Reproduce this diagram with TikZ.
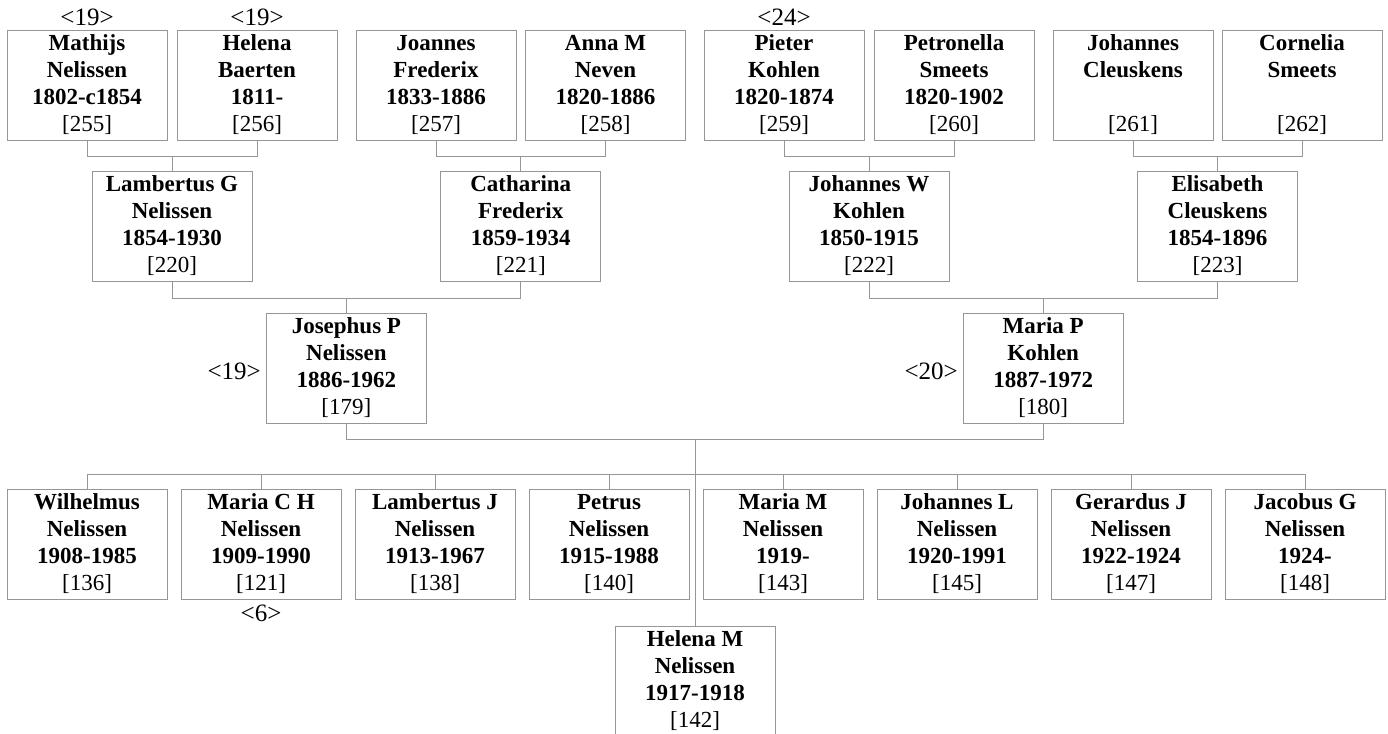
\documentclass[tikz,border=0pt]{standalone}
\usepackage{fontspec}
\setmainfont{Liberation Serif}
\definecolor{lg}{RGB}{150,150,150}
\newcommand\pp[4]{\rule{0pt}{16pt}\textbf{#1}\\\textbf{#2}\\\textbf{#3}\\{[#4]}\rule[-5pt]{0pt}{5pt}}
\begin{document}
\begin{tikzpicture}[x=1pt,y=-1pt,
  pbox/.style={draw=lg, line width=1pt, minimum width=160pt, minimum height=110pt,
    inner sep=0pt, align=center, fill=white, font=\fontsize{23}{27}\selectfont},
  conn/.style={draw=lg, line width=1pt},
  tag/.style={inner sep=0pt, font=\fontsize{25}{30}\selectfont}]
\useasboundingbox (0,0) rectangle (1388,733);
\clip (0,0) rectangle (1388,733);
% generation 1
\node[pbox] (m1) at (87,85.5)   {\pp{Mathijs}{Nelissen}{1802-c1854}{255}};
\node[pbox] (m2) at (257,85.5)  {\pp{Helena}{Baerten}{1811-}{256}};
\node[pbox] (m3) at (436,85.5)  {\pp{Joannes}{Frederix}{1833-1886}{257}};
\node[pbox] (m4) at (605.5,85.5){\pp{Anna M}{Neven}{1820-1886}{258}};
\node[pbox] (m5) at (784,85.5)  {\pp{Pieter}{Kohlen}{1820-1874}{259}};
\node[pbox] (m6) at (954,85.5)  {\pp{Petronella}{Smeets}{1820-1902}{260}};
\node[pbox] (m7) at (1133,85.5) {\pp{Johannes}{Cleuskens}{\mbox{}}{261}};
\node[pbox] (m8) at (1302,85.5) {\pp{Cornelia}{Smeets}{\mbox{}}{262}};
% generation 2
\node[pbox] (g1) at (172,226.5)    {\pp{Lambertus G}{Nelissen}{1854-1930}{220}};
\node[pbox] (g2) at (520.75,226.5) {\pp{Catharina}{Frederix}{1859-1934}{221}};
\node[pbox] (g3) at (869,226.5)    {\pp{Johannes W}{Kohlen}{1850-1915}{222}};
\node[pbox] (g4) at (1217.5,226.5) {\pp{Elisabeth}{Cleuskens}{1854-1896}{223}};
% generation 3
\node[pbox] (f1) at (346.4,368)  {\pp{Josephus P}{Nelissen}{1886-1962}{179}};
\node[pbox] (f2) at (1043.2,368) {\pp{Maria P}{Kohlen}{1887-1972}{180}};
% children
\node[pbox] (c1) at (87,544)   {\pp{Wilhelmus}{Nelissen}{1908-1985}{136}};
\node[pbox] (c2) at (261,544)  {\pp{Maria C H}{Nelissen}{1909-1990}{121}};
\node[pbox] (c3) at (435,544)  {\pp{Lambertus J}{Nelissen}{1913-1967}{138}};
\node[pbox] (c4) at (609,544)  {\pp{Petrus}{Nelissen}{1915-1988}{140}};
\node[pbox] (c5) at (783,544)  {\pp{Maria M}{Nelissen}{1919-}{143}};
\node[pbox] (c6) at (957,544)  {\pp{Johannes L}{Nelissen}{1920-1991}{145}};
\node[pbox] (c7) at (1131,544) {\pp{Gerardus J}{Nelissen}{1922-1924}{147}};
\node[pbox] (c8) at (1305,544) {\pp{Jacobus G}{Nelissen}{1924-}{148}};
\node[pbox] (h)  at (695,681)  {\pp{Helena M}{Nelissen}{1917-1918}{142}};
% tags
\node[tag, anchor=base] (t1) at (87,25.5)  {<19>};
\node[tag, anchor=base] (t2) at (257,25.5) {<19>};
\node[tag, anchor=base] (t3) at (784,25.5) {<24>};
\node[tag, anchor=base east] (t4) at (261,379) {<19>};
\node[tag, anchor=base east] (t5) at (958,379) {<20>};
\node[tag, anchor=base] (t6) at (261,621) {<6>};
% connectors gen1 -> gen2
\draw[conn] (m1.south) -- ++(0,15) coordinate (b1) -| (m2.south);
\draw[conn] (g1.north) -- (g1.north |- b1);
\draw[conn] (m3.south) -- ++(0,15) coordinate (b2) -| (m4.south);
\draw[conn] (g2.north) -- (g2.north |- b2);
\draw[conn] (m5.south) -- ++(0,15) coordinate (b3) -| (m6.south);
\draw[conn] (g3.north) -- (g3.north |- b3);
\draw[conn] (m7.south) -- ++(0,15) coordinate (b4) -| (m8.south);
\draw[conn] (g4.north) -- (g4.north |- b4);
% gen2 -> gen3
\draw[conn] (g1.south) -- ++(0,16) coordinate (b5) -| (g2.south);
\draw[conn] (f1.north) -- (f1.north |- b5);
\draw[conn] (g3.south) -- ++(0,16) coordinate (b6) -| (g4.south);
\draw[conn] (f2.north) -- (f2.north |- b6);
% gen3 -> children
\draw[conn] (f1.south) -- ++(0,16) coordinate (b7) -| (f2.south);
\draw[conn] (h.north) -- (h.north |- b7);
\coordinate (kb) at (0,474);
\draw[conn] (c1.north |- kb) -- (c8.north |- kb);
\foreach \c in {c1,c2,c3,c4,c5,c6,c7,c8}
  \draw[conn] (\c.north) -- (\c.north |- kb);
\end{tikzpicture}
\end{document}
